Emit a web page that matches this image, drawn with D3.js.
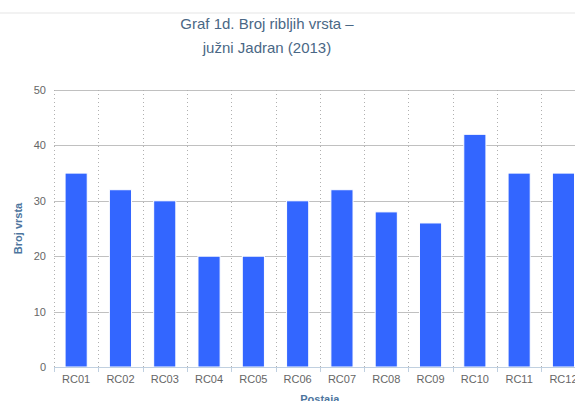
<!DOCTYPE html>
<html>
<head>
<meta charset="utf-8">
<script src="https://cdn.jsdelivr.net/npm/d3@7"></script>
<style>
  body { margin: 0; background: #fff; overflow: hidden; }
  svg { display: block; font-family: "Liberation Sans", Arial, sans-serif; }
</style>
</head>
<body>
<script>
// Stations and number of fish species
var stations = ["RC01", "RC02", "RC03", "RC04", "RC05", "RC06",
                "RC07", "RC08", "RC09", "RC10", "RC11", "RC12"];
var speciesCount = [35, 32, 30, 20, 20, 30, 32, 28, 26, 42, 35, 35];
var yTicks = [0, 10, 20, 30, 40, 50];

var w = 575, h = 401;
var plotLeft = 54, plotRight = 585.6, plotTop = 90, plotBottom = 367;

var svg = d3.select("body").append("svg")
    .attr("width", w)
    .attr("height", h);

// faint line across the top of the page
svg.append("rect")
    .attr("x", 0).attr("y", 12)
    .attr("width", w).attr("height", 2)
    .attr("fill", "#f2f2f2");

var xScale = d3.scaleBand()
    .domain(stations)
    .range([plotLeft, plotRight])
    .paddingInner(0.5)
    .paddingOuter(0.25);

var yScale = d3.scaleLinear()
    .domain([0, 50])
    .range([plotBottom, plotTop]);

var step = xScale.step();

// boundary position of a category (left edge of its slot)
function slotLeft(d) {
  return Math.round(xScale(d) - step * 0.25) + 0.5;
}

// horizontal grid lines
svg.append("g")
  .selectAll("line")
  .data(yTicks.filter(function(d) { return d > 0; }))
  .enter().append("line")
    .attr("x1", plotLeft).attr("x2", w)
    .attr("y1", function(d) { return Math.round(yScale(d)) + 0.5; })
    .attr("y2", function(d) { return Math.round(yScale(d)) + 0.5; })
    .attr("stroke", "#c0c0c0")
    .attr("stroke-width", 1);

// dotted vertical grid lines at category boundaries
svg.append("g")
  .selectAll("line")
  .data(stations)
  .enter().append("line")
    .attr("x1", slotLeft)
    .attr("x2", slotLeft)
    .attr("y1", plotTop).attr("y2", plotBottom)
    .attr("stroke", "#b0b0b0")
    .attr("stroke-width", 1)
    .attr("stroke-dasharray", "1,3");

// bars
svg.append("g")
  .selectAll("rect")
  .data(stations)
  .enter().append("rect")
    .attr("x", function(d) { return xScale(d); })
    .attr("y", function(d, i) { return yScale(speciesCount[i]); })
    .attr("width", xScale.bandwidth())
    .attr("height", function(d, i) { return plotBottom - yScale(speciesCount[i]); })
    .attr("fill", "#3366ff")
    .attr("stroke", "#ffffff")
    .attr("stroke-width", 1);

// x axis line and ticks
svg.append("line")
    .attr("x1", plotLeft).attr("x2", w)
    .attr("y1", plotBottom + 0.5).attr("y2", plotBottom + 0.5)
    .attr("stroke", "#c0d0e0");

svg.append("g")
  .selectAll("line")
  .data(stations)
  .enter().append("line")
    .attr("x1", slotLeft)
    .attr("x2", slotLeft)
    .attr("y1", plotBottom).attr("y2", plotBottom + 5)
    .attr("stroke", "#c0d0e0");

// x labels
svg.append("g")
  .selectAll("text")
  .data(stations)
  .enter().append("text")
    .attr("x", function(d) { return xScale(d) + xScale.bandwidth() / 2; })
    .attr("y", 383)
    .attr("text-anchor", "middle")
    .style("font-size", "11px")
    .attr("fill", "#666666")
    .text(function(d) { return d; });

// y labels
svg.append("g")
  .selectAll("text")
  .data(yTicks)
  .enter().append("text")
    .attr("x", 46)
    .attr("y", function(d) { return yScale(d) + 4; })
    .attr("text-anchor", "end")
    .style("font-size", "11px")
    .attr("fill", "#666666")
    .text(function(d) { return d; });

// titles
svg.append("text")
    .attr("x", 267).attr("y", 29)
    .attr("text-anchor", "middle")
    .style("font-size", "15px")
    .attr("fill", "#4a6785")
    .text("Graf 1d. Broj ribljih vrsta –");

svg.append("text")
    .attr("x", 267).attr("y", 53)
    .attr("text-anchor", "middle")
    .style("font-size", "15px")
    .attr("fill", "#4a6785")
    .text("južni Jadran (2013)");

svg.append("text")
    .attr("transform", "translate(22," + ((plotTop + plotBottom) / 2) + ") rotate(-90)")
    .attr("text-anchor", "middle")
    .style("font-size", "11px")
    .style("font-weight", "bold")
    .attr("fill", "#4d759e")
    .text("Broj vrsta");

svg.append("text")
    .attr("x", (plotLeft + plotRight) / 2).attr("y", 403)
    .attr("text-anchor", "middle")
    .style("font-size", "11px")
    .style("font-weight", "bold")
    .attr("fill", "#4d759e")
    .text("Postaja");
</script>
</body>
</html>
